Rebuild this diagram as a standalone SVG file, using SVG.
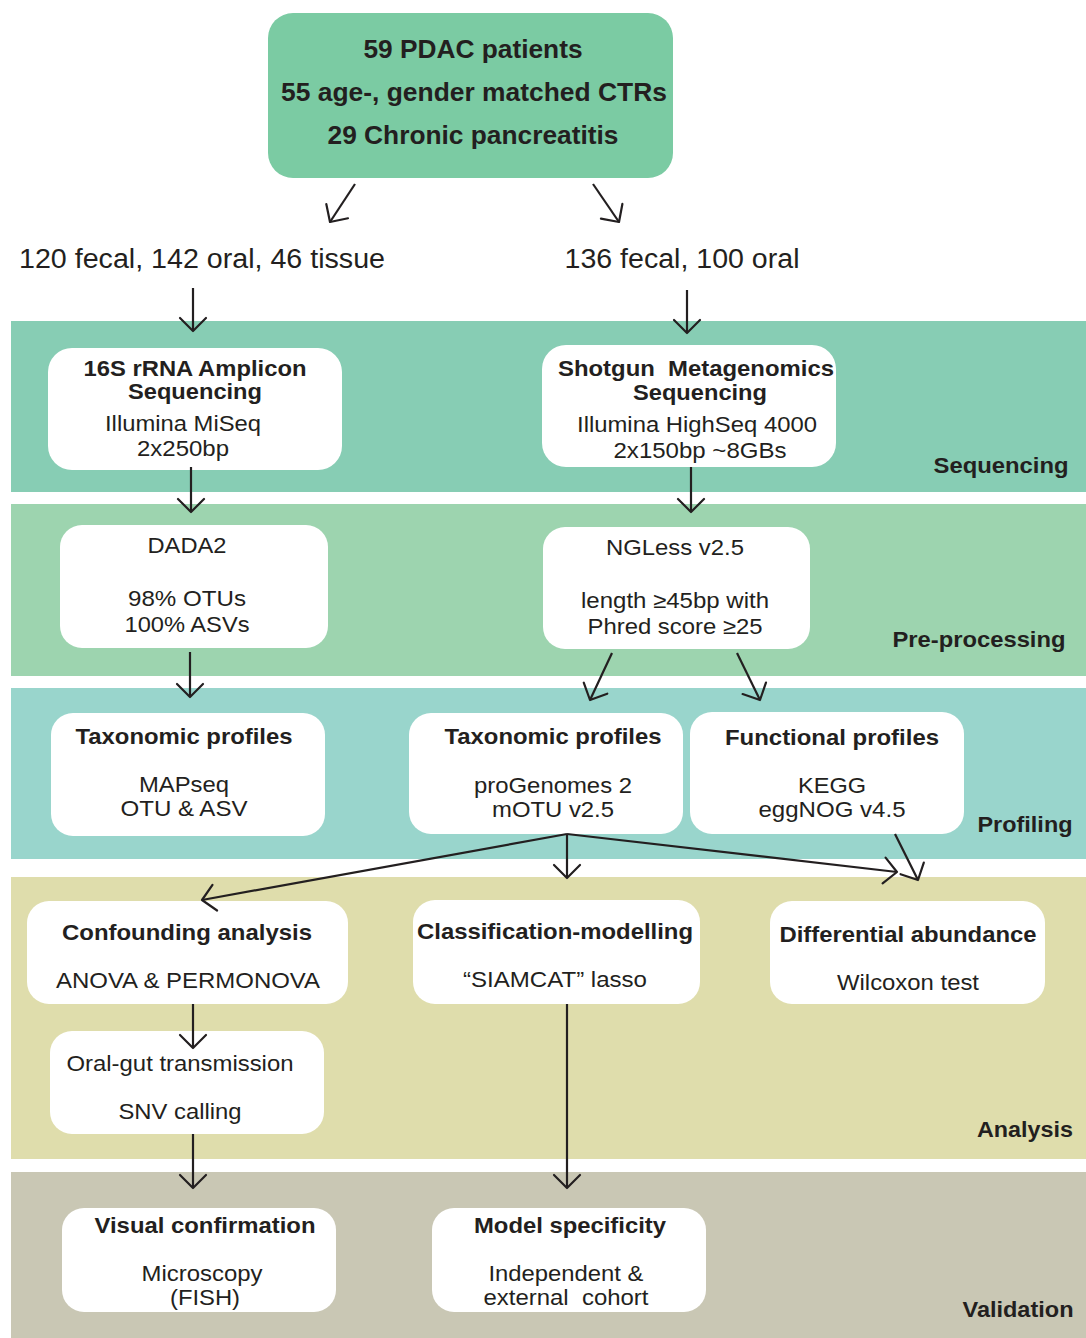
<svg xmlns="http://www.w3.org/2000/svg" width="1086" height="1338" viewBox="0 0 1086 1338">
<defs>
<marker id="ah" markerUnits="userSpaceOnUse" viewBox="-16 -16 18 32" refX="0" refY="0" markerWidth="18" markerHeight="32" orient="auto">
<path d="M-13,-13 L0,0 L-13,13" fill="none" stroke="#231f20" stroke-width="2.2" stroke-linecap="round" stroke-linejoin="round"/>
</marker>
</defs>
<style>
text{font-family:"Liberation Sans",Arial,Helvetica,sans-serif;fill:#231f20;text-anchor:middle}
.b{font-weight:bold}
.t{font-size:22px}
.pre{white-space:pre}
.top{font-size:26px;font-weight:bold}
.cnt{font-size:27px}
.band{font-size:22px;font-weight:bold}
.node{fill:#ffffff}
.ln{stroke:#231f20;stroke-width:2.2;fill:none;marker-end:url(#ah)}
</style>
<rect width="1086" height="1338" fill="#ffffff"/>
<g id="bands">
<rect x="11" y="321" width="1075" height="171" fill="#87cdb4"/>
<rect x="11" y="504" width="1075" height="172" fill="#9dd4af"/>
<rect x="11" y="688" width="1075" height="171" fill="#99d5cc"/>
<rect x="11" y="877" width="1075" height="282" fill="#dfddac"/>
<rect x="11" y="1172" width="1075" height="166" fill="#c9c7b4"/>
<text class="band" x="1001" y="473" textLength="135" lengthAdjust="spacingAndGlyphs">Sequencing</text>
<text class="band" x="979" y="647" textLength="173" lengthAdjust="spacingAndGlyphs">Pre-processing</text>
<text class="band" x="1025" y="832" textLength="95" lengthAdjust="spacingAndGlyphs">Profiling</text>
<text class="band" x="1025" y="1137" textLength="96" lengthAdjust="spacingAndGlyphs">Analysis</text>
<text class="band" x="1018" y="1317" textLength="111" lengthAdjust="spacingAndGlyphs">Validation</text>
</g>
<g id="cohort">
<rect x="268" y="13" width="405" height="165" rx="25" fill="#7bcba3"/>
<text class="top" x="473" y="58" textLength="219" lengthAdjust="spacingAndGlyphs">59 PDAC patients</text>
<text class="top" x="474" y="101" textLength="386" lengthAdjust="spacingAndGlyphs">55 age-, gender matched CTRs</text>
<text class="top" x="473" y="144" textLength="291" lengthAdjust="spacingAndGlyphs">29 Chronic pancreatitis</text>
</g>
<g id="samples-16s">
<text class="cnt" x="202" y="268" textLength="366" lengthAdjust="spacingAndGlyphs">120 fecal, 142 oral, 46 tissue</text>
</g>
<g id="samples-shotgun">
<text class="cnt" x="682" y="268" textLength="235" lengthAdjust="spacingAndGlyphs">136 fecal, 100 oral</text>
</g>
<g id="seq-16s">
<rect class="node" x="48" y="348" width="294" height="122" rx="24"/>
<text class="t b" x="195" y="376" textLength="223" lengthAdjust="spacingAndGlyphs">16S rRNA Amplicon</text>
<text class="t b" x="195" y="399" textLength="134" lengthAdjust="spacingAndGlyphs">Sequencing</text>
<text class="t" x="183" y="431" textLength="156" lengthAdjust="spacingAndGlyphs">Illumina MiSeq</text>
<text class="t" x="183" y="456" textLength="92" lengthAdjust="spacingAndGlyphs">2x250bp</text>
</g>
<g id="seq-shotgun">
<rect class="node" x="542" y="345" width="294" height="122" rx="24"/>
<text class="t b pre" x="696" y="376" textLength="276" lengthAdjust="spacingAndGlyphs" xml:space="preserve">Shotgun  Metagenomics</text>
<text class="t b" x="700" y="400" textLength="134" lengthAdjust="spacingAndGlyphs">Sequencing</text>
<text class="t" x="697" y="432" textLength="240" lengthAdjust="spacingAndGlyphs">Illumina HighSeq 4000</text>
<text class="t" x="700" y="458" textLength="173" lengthAdjust="spacingAndGlyphs">2x150bp ~8GBs</text>
</g>
<g id="dada2">
<rect class="node" x="60" y="525" width="268" height="123" rx="22"/>
<text class="t" x="187" y="553" textLength="79" lengthAdjust="spacingAndGlyphs">DADA2</text>
<text class="t" x="187" y="606" textLength="118" lengthAdjust="spacingAndGlyphs">98% OTUs</text>
<text class="t" x="187" y="632" textLength="125" lengthAdjust="spacingAndGlyphs">100% ASVs</text>
</g>
<g id="ngless">
<rect class="node" x="543" y="527" width="267" height="122" rx="22"/>
<text class="t" x="675" y="555" textLength="138" lengthAdjust="spacingAndGlyphs">NGLess v2.5</text>
<text class="t" x="675" y="608" textLength="188" lengthAdjust="spacingAndGlyphs">length ≥45bp with</text>
<text class="t" x="675" y="634" textLength="175" lengthAdjust="spacingAndGlyphs">Phred score ≥25</text>
</g>
<g id="tax-16s">
<rect class="node" x="51" y="713" width="274" height="123" rx="22"/>
<text class="t b" x="184" y="744" textLength="217" lengthAdjust="spacingAndGlyphs">Taxonomic profiles</text>
<text class="t" x="184" y="792" textLength="90" lengthAdjust="spacingAndGlyphs">MAPseq</text>
<text class="t" x="184" y="816" textLength="127" lengthAdjust="spacingAndGlyphs">OTU &amp; ASV</text>
</g>
<g id="tax-shotgun">
<rect class="node" x="409" y="713" width="274" height="121" rx="22"/>
<text class="t b" x="553" y="744" textLength="217" lengthAdjust="spacingAndGlyphs">Taxonomic profiles</text>
<text class="t" x="553" y="793" textLength="158" lengthAdjust="spacingAndGlyphs">proGenomes 2</text>
<text class="t" x="553" y="817" textLength="122" lengthAdjust="spacingAndGlyphs">mOTU v2.5</text>
</g>
<g id="functional">
<rect class="node" x="690" y="712" width="274" height="122" rx="22"/>
<text class="t b" x="832" y="745" textLength="214" lengthAdjust="spacingAndGlyphs">Functional profiles</text>
<text class="t" x="832" y="793" textLength="68" lengthAdjust="spacingAndGlyphs">KEGG</text>
<text class="t" x="832" y="817" textLength="147" lengthAdjust="spacingAndGlyphs">eggNOG v4.5</text>
</g>
<g id="confounding">
<rect class="node" x="27" y="901" width="321" height="103" rx="22"/>
<text class="t b" x="187" y="940" textLength="250" lengthAdjust="spacingAndGlyphs">Confounding analysis</text>
<text class="t" x="188" y="988" textLength="264" lengthAdjust="spacingAndGlyphs">ANOVA &amp; PERMONOVA</text>
</g>
<g id="classification">
<rect class="node" x="413" y="900" width="287" height="104" rx="22"/>
<text class="t b" x="555" y="939" textLength="276" lengthAdjust="spacingAndGlyphs">Classification-modelling</text>
<text class="t" x="555" y="987" textLength="184" lengthAdjust="spacingAndGlyphs">“SIAMCAT” lasso</text>
</g>
<g id="differential">
<rect class="node" x="770" y="901" width="275" height="103" rx="22"/>
<text class="t b" x="908" y="942" textLength="257" lengthAdjust="spacingAndGlyphs">Differential abundance</text>
<text class="t" x="908" y="990" textLength="142" lengthAdjust="spacingAndGlyphs">Wilcoxon test</text>
</g>
<g id="oral-gut">
<rect class="node" x="50" y="1031" width="274" height="103" rx="22"/>
<text class="t" x="180" y="1071" textLength="227" lengthAdjust="spacingAndGlyphs">Oral-gut transmission</text>
<text class="t" x="180" y="1119" textLength="123" lengthAdjust="spacingAndGlyphs">SNV calling</text>
</g>
<g id="visual">
<rect class="node" x="62" y="1208" width="274" height="104" rx="22"/>
<text class="t b" x="205" y="1233" textLength="221" lengthAdjust="spacingAndGlyphs">Visual confirmation</text>
<text class="t" x="202" y="1281" textLength="121" lengthAdjust="spacingAndGlyphs">Microscopy</text>
<text class="t" x="205" y="1305" textLength="70" lengthAdjust="spacingAndGlyphs">(FISH)</text>
</g>
<g id="model">
<rect class="node" x="432" y="1208" width="274" height="104" rx="22"/>
<text class="t b" x="570" y="1233" textLength="192" lengthAdjust="spacingAndGlyphs">Model specificity</text>
<text class="t" x="566" y="1281" textLength="155" lengthAdjust="spacingAndGlyphs">Independent &amp;</text>
<text class="t pre" x="566" y="1305" textLength="165" lengthAdjust="spacingAndGlyphs" xml:space="preserve">external  cohort</text>
</g>
<g id="connectors">
<line class="ln" x1="355" y1="184" x2="330" y2="222"/>
<line class="ln" x1="593" y1="184" x2="619" y2="222"/>
<line class="ln" x1="193" y1="288" x2="193" y2="331"/>
<line class="ln" x1="687" y1="290" x2="687" y2="333"/>
<line class="ln" x1="191" y1="467" x2="191" y2="512"/>
<line class="ln" x1="691" y1="467" x2="691" y2="512"/>
<line class="ln" x1="190" y1="652" x2="190" y2="697"/>
<line class="ln" x1="612" y1="653" x2="590" y2="700"/>
<line class="ln" x1="737" y1="653" x2="760" y2="700"/>
<line class="ln" x1="567" y1="834" x2="202" y2="900"/>
<line class="ln" x1="567" y1="834" x2="567" y2="878"/>
<line class="ln" x1="567" y1="834" x2="897" y2="872"/>
<line class="ln" x1="895" y1="834" x2="918" y2="880"/>
<line class="ln" x1="193" y1="1004" x2="193" y2="1048"/>
<line class="ln" x1="567" y1="1004" x2="567" y2="1188"/>
<line class="ln" x1="193" y1="1134" x2="193" y2="1188"/>
</g>
</svg>
